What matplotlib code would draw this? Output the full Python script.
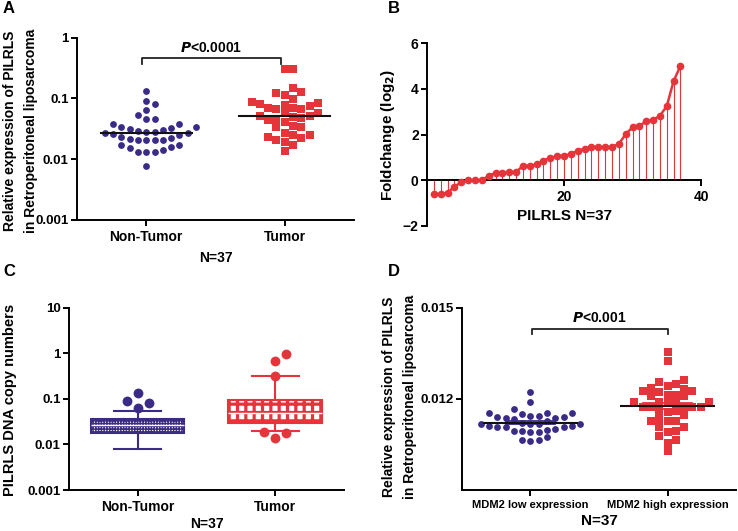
import numpy as np
import matplotlib.pyplot as plt

plt.rcParams['font.family'] = ['Liberation Sans', 'DejaVu Sans']
plt.rcParams['font.weight'] = 'bold'
plt.rcParams['axes.labelweight'] = 'bold'
plt.rcParams['axes.linewidth'] = 1.4
plt.rcParams['xtick.major.width'] = 1.4
plt.rcParams['ytick.major.width'] = 1.4
plt.rcParams['xtick.major.size'] = 4
plt.rcParams['ytick.major.size'] = 4
plt.rcParams['mathtext.default'] = 'bf'

PURPLE = '#3b2b86'
RED = '#e5353a'

# panel A: relative expression, Non-Tumor vs Tumor
a_groups = ['Non-Tumor', 'Tumor']
a_nontumor = [0.134, 0.0907, 0.080, 0.0637, 0.054, 0.0459, 0.0453, 0.0384, 0.038,
              0.0334, 0.0334, 0.031, 0.0322, 0.0302, 0.0291, 0.0284, 0.0267, 0.026,
              0.0267, 0.0284, 0.025, 0.0235, 0.0226, 0.0215, 0.0207, 0.021, 0.0207,
              0.0207, 0.0171, 0.0161, 0.0171, 0.0151, 0.0142, 0.0133, 0.013, 0.0133,
              0.0077]
a_tumor = [0.31, 0.30, 0.1466, 0.126, 0.1245, 0.114, 0.098, 0.0863, 0.081, 0.076,
           0.078, 0.0832, 0.0687, 0.067, 0.067, 0.0705, 0.0569, 0.052, 0.047, 0.0442,
           0.0334, 0.0414, 0.0459, 0.0501, 0.0514, 0.0569, 0.0356, 0.0334, 0.0267,
           0.025, 0.0229, 0.0207, 0.025, 0.022, 0.0171, 0.0194, 0.0138]

# panel B: sorted log2 fold change
b_foldchange = [-0.6, -0.6, -0.54, -0.28, -0.09, 0.0, 0.0, 0.0, 0.2, 0.32, 0.32, 0.36,
                0.36, 0.63, 0.63, 0.7, 0.86, 0.99, 1.04, 1.08, 1.14, 1.3, 1.37, 1.45,
                1.45, 1.45, 1.45, 1.59, 2.01, 2.32, 2.36, 2.6, 2.63, 2.82, 3.24, 4.34,
                5.0]

# panel C: DNA copy number box plots
c_groups = ['Non-Tumor', 'Tumor']
c_whislo = [0.0078, 0.020]
c_q1 = [0.0175, 0.029]
c_med = [0.027, 0.049]
c_q3 = [0.037, 0.095]
c_whishi = [0.055, 0.32]
c_fliers_nontumor = [0.064, 0.08, 0.09, 0.135]
c_fliers_tumor = [0.0137, 0.0174, 0.019, 0.32, 0.69, 0.97]

# panel D: PILRLS expression by MDM2 level
d_groups = ['MDM2 low expression', 'MDM2 high expression']
d_low = [0.01222, 0.01189, 0.01167, 0.01145, 0.01139, 0.01136, 0.01154, 0.01153,
         0.0115, 0.01154, 0.01136, 0.01139, 0.01145, 0.01134, 0.01128, 0.01112,
         0.01108, 0.01101, 0.0112, 0.01095, 0.0109, 0.0109, 0.01095, 0.01098,
         0.01106, 0.01109, 0.01112, 0.01117, 0.01117, 0.01117, 0.01117, 0.01064,
         0.0106, 0.01064, 0.01073]
d_high = [0.01354, 0.01324, 0.01261, 0.0125, 0.01255, 0.01235, 0.01227, 0.01224,
          0.01241, 0.01225, 0.01233, 0.01214, 0.01209, 0.01211, 0.01214, 0.01189,
          0.01189, 0.01189, 0.01189, 0.01189, 0.01172, 0.01172, 0.01172, 0.01172,
          0.01172, 0.01161, 0.01156, 0.01161, 0.01134, 0.01128, 0.01126, 0.01128,
          0.01148, 0.01106, 0.01106, 0.01093, 0.0109, 0.01078, 0.01066, 0.01056,
          0.01027]


def swarm_x(ax, x0, values, step_px, gap_px):
    # spread points sideways (in pixels) so that markers don't overlap
    vals = np.asarray(values, dtype=float)
    ys = ax.transData.transform(np.column_stack([np.full(len(vals), x0), vals]))[:, 1]
    ppu = ax.transData.transform((1, 1))[0] - ax.transData.transform((0, 1))[0]
    cols = {}
    xs = np.zeros(len(vals))
    for i in np.argsort(vals, kind='stable'):
        k = 0
        while True:
            cands = [0] if k == 0 else [k, -k]
            placed = False
            for c in cands:
                if all(abs(ys[i] - y) >= gap_px for y in cols.get(c, [])):
                    cols.setdefault(c, []).append(ys[i])
                    xs[i] = x0 + c * step_px / ppu
                    placed = True
                    break
            if placed:
                break
            k += 1
    return xs


def clean(ax):
    ax.spines['top'].set_visible(False)
    ax.spines['right'].set_visible(False)
    ax.tick_params(axis='x', labelsize=10, pad=3)
    ax.tick_params(axis='y', labelsize=9.5, pad=2)
    ax.minorticks_off()


def bracket(ax, x1, x2, ytop, ylow, text, ytext):
    ax.plot([x1, x1, x2, x2], [ylow, ytop, ytop, ylow], color='#222222', lw=1.3)
    ax.text((x1 + x2) / 2, ytext, text, ha='center', va='center', fontsize=10,
            fontweight='bold')


fig = plt.figure(figsize=(7.38, 5.31), dpi=100)

# ---------------- A
axA = fig.add_axes([0.1043, 0.5857, 0.3753, 0.3433])
axA.set_yscale('log')
axA.set_ylim(0.001, 1)
axA.set_xlim(0.5, 2.5)
clean(axA)
axA.set_yticks([0.001, 0.01, 0.1, 1])
axA.set_yticklabels(['0.001', '0.01', '0.1', '1'])
axA.set_xticks([1, 2])
axA.set_xticklabels(a_groups)
xs = swarm_x(axA, 1, a_nontumor, 8.3, 8)
axA.scatter(xs, a_nontumor, s=24, color=PURPLE, marker='o', linewidths=0, zorder=3)
xs = swarm_x(axA, 2, a_tumor, 8.3, 8)
axA.scatter(xs, a_tumor, s=26, color=RED, marker='s', linewidths=0, zorder=3)
for x0, vals in [(1, a_nontumor), (2, a_tumor)]:
    m = np.median(vals)
    axA.plot([x0 - 0.33, x0 + 0.33], [m, m], color='#111111', lw=1.5, zorder=4)
bracket(axA, 0.97, 1.97, 0.457, 0.369, '$\\mathit{P}$<0.0001', 0.67)
axA.set_ylabel('Relative expression of PILRLS\nin Retroperitoneal liposarcoma',
               fontsize=10, linespacing=1.65)
axA.yaxis.set_label_coords(-0.14, 0.49)
axA.set_xlabel('N=37', fontsize=10, labelpad=5)

# ---------------- B
axB = fig.add_axes([0.5786, 0.5744, 0.3713, 0.3446])
axB.set_xlim(0, 40)
axB.set_ylim(-2, 6)
clean(axB)
axB.tick_params(axis='y', labelsize=10)
axB.spines['bottom'].set_position(('data', 0))
x_idx = np.arange(1, len(b_foldchange) + 1)
axB.vlines(x_idx, 0, b_foldchange, color=RED, lw=0.8)
axB.plot(x_idx, b_foldchange, '-o', color=RED, ms=4.5, lw=1.8, zorder=3)
axB.set_xticks([20, 40])
axB.set_yticks([-2, 0, 2, 4, 6])
axB.set_ylabel('Foldchange (log$_{2}$)', fontsize=11)
axB.yaxis.set_label_coords(-0.109, 0.5)
axB.text(20, -1.57, 'PILRLS N=37', ha='center', va='center', fontsize=11,
         fontweight='bold')

# ---------------- C
axC = fig.add_axes([0.0935, 0.0772, 0.3726, 0.3433])
axC.set_yscale('log')
axC.set_ylim(0.001, 10)
axC.set_xlim(0.5, 2.5)
clean(axC)
stats = []
for i in range(2):
    stats.append(dict(whislo=c_whislo[i], q1=c_q1[i], med=c_med[i], q3=c_q3[i],
                      whishi=c_whishi[i], fliers=[]))
colors = [PURPLE, RED]
hatches = ['++++++', '++']
hatch_lw = [1.1, 2.3]
for i in range(2):
    bp = axC.bxp([stats[i]], positions=[i + 1], widths=0.68, capwidths=0.34,
                 patch_artist=True, showfliers=False,
                 boxprops=dict(facecolor='white', edgecolor=colors[i], lw=1.5,
                               hatch=hatches[i]),
                 whiskerprops=dict(color=colors[i], lw=1.5),
                 capprops=dict(color=colors[i], lw=1.5),
                 medianprops=dict(color='white', lw=1.0))
    for b in bp['boxes']:
        if hasattr(b, 'set_hatch_linewidth'):
            b.set_hatch_linewidth(hatch_lw[i])
xs = swarm_x(axC, 1, c_fliers_nontumor, 11, 11)
axC.scatter(xs, c_fliers_nontumor, s=50, color=PURPLE, linewidths=0, zorder=4)
xs = swarm_x(axC, 2, c_fliers_tumor, 11, 11)
axC.scatter(xs, c_fliers_tumor, s=50, color=RED, linewidths=0, zorder=4)
axC.set_yticks([0.001, 0.01, 0.1, 1, 10])
axC.set_yticklabels(['0.001', '0.01', '0.1', '1', '10'])
axC.set_xticks([1, 2])
axC.set_xticklabels(c_groups)
axC.set_ylabel('PILRLS DNA copy numbers', fontsize=10.5)
axC.yaxis.set_label_coords(-0.19, 0.496)
axC.set_xlabel('N=37', fontsize=10, labelpad=2)

# ---------------- D
axD = fig.add_axes([0.626, 0.0772, 0.3713, 0.3433])
axD.set_ylim(0.009, 0.015)
axD.set_xlim(0.5, 2.5)
clean(axD)
axD.set_yticks([0.012, 0.015])
axD.set_yticklabels(['0.012', '0.015'])
axD.set_xticks([1, 2])
axD.set_xticklabels(d_groups, fontsize=8)
xs = swarm_x(axD, 1, d_low, 8.3, 7)
axD.scatter(xs, d_low, s=24, color=PURPLE, marker='o', linewidths=0, zorder=3)
xs = swarm_x(axD, 2, d_high, 8.3, 7)
axD.scatter(xs, d_high, s=26, color=RED, marker='s', linewidths=0, zorder=3)
for x0, vals, col in [(1, d_low, PURPLE), (2, d_high, RED)]:
    m = np.mean(vals)
    sem = np.std(vals, ddof=1) / np.sqrt(len(vals))
    axD.plot([x0 - 0.18, x0 + 0.18], [m - sem, m - sem], color=col, lw=1.3, zorder=4)
    axD.plot([x0 - 0.18, x0 + 0.18], [m + sem, m + sem], color=col, lw=1.3, zorder=4)
    axD.plot([x0 - 0.34, x0 + 0.34], [m, m], color='#111111', lw=1.5, zorder=5)
bracket(axD, 1.01, 2.0, 0.01429, 0.01413, '$\\mathit{P}$<0.001', 0.01466)
axD.set_ylabel('Relative expression of PILRLS\nin Retroperitoneal liposarcoma',
               fontsize=10, linespacing=1.65)
axD.yaxis.set_label_coords(-0.165, 0.513)
axD.set_xlabel('N=37', fontsize=11, labelpad=3)

# panel letters
for lab, x, y in [('A', 0.004, 0.998), ('B', 0.525, 0.998), ('C', 0.004, 0.503),
                  ('D', 0.525, 0.503)]:
    fig.text(x, y, lab, fontsize=12, fontweight='bold', va='top', ha='left')

fig.savefig('out.png', dpi=100)
